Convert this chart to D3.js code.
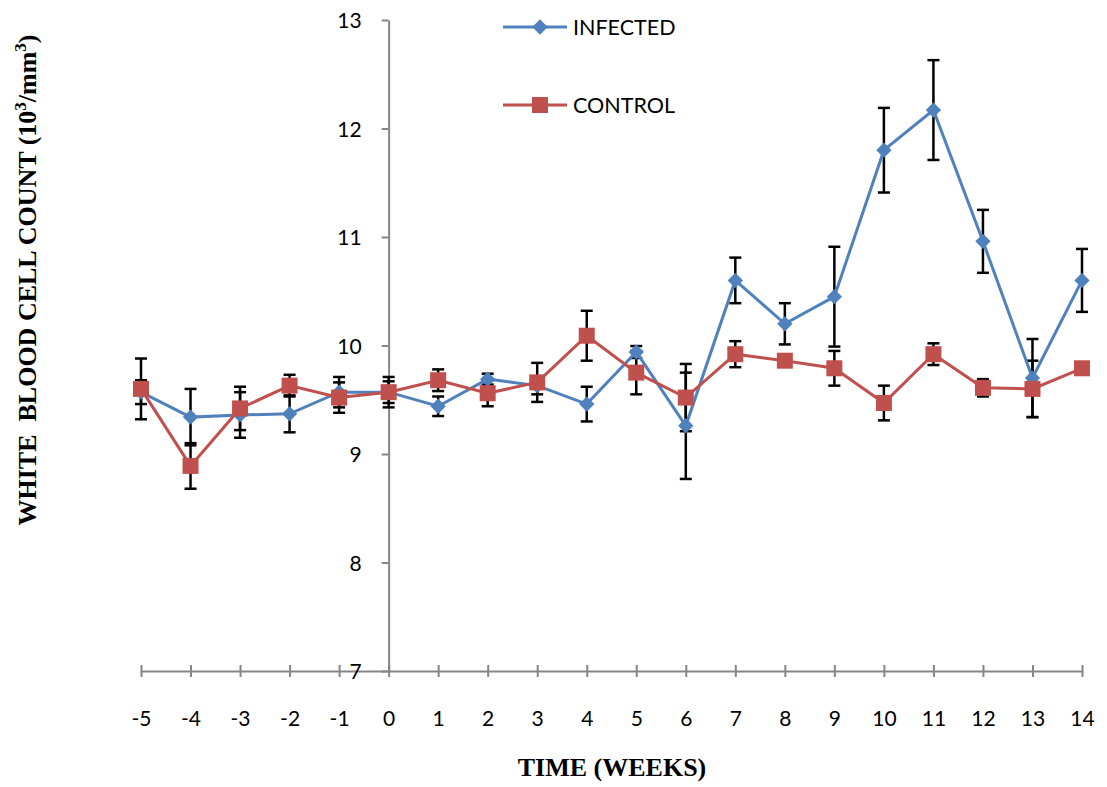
<!DOCTYPE html>
<html>
<head>
<meta charset="utf-8">
<script src="https://cdn.jsdelivr.net/npm/d3@7"></script>
<style>
  body { margin: 0; background: #fff; }
  .tick text { font-family: Lato, "Open Sans", sans-serif; font-size: 21px; fill: #000; }
  .axis-title { font-family: "Liberation Serif", "Times New Roman", serif; font-weight: bold; font-size: 26px; white-space: pre; }
  .legend text { font-family: Lato, "Open Sans", sans-serif; font-size: 21.5px; }
</style>
</head>
<body>
<svg id="root"></svg>
<script>
// weeks relative to infection
const weeks = [-5, -4, -3, -2, -1, 0, 1, 2, 3, 4, 5, 6, 7, 8, 9, 10, 11, 12, 13, 14];

const infected = [9.57, 9.34, 9.36, 9.37, 9.57, 9.57, 9.44, 9.69, 9.63, 9.46,
                  9.94, 9.26, 10.60, 10.20, 10.45, 11.80, 12.17, 10.96, 9.70, 10.60];
const infectedErr = [0.11, 0.26, 0.21, 0.17, 0.14, 0.10, 0.09, 0.05, 0.08, 0.16,
                     0.055, 0.49, 0.21, 0.19, 0.46, 0.39, 0.46, 0.29, 0.36, 0.29];

const control = [9.60, 8.89, 9.42, 9.63, 9.52, 9.57, 9.68, 9.56, 9.66, 10.09,
                 9.75, 9.52, 9.92, 9.86, 9.79, 9.47, 9.92, 9.61, 9.60, 9.79];
const controlErr = [0.28, 0.21, 0.20, 0.10, 0.14, 0.14, 0.10, 0.12, 0.18, 0.23,
                    0.20, 0.31, 0.12, 0.02, 0.16, 0.16, 0.10, 0.08, 0.26, 0.02];

const yTicks = [7, 8, 9, 10, 11, 12, 13];

const width = 1107, height = 787;
const margin = { top: 20, right: 25, bottom: 116, left: 141 };

const svg = d3.select('#root')
    .attr('width', width)
    .attr('height', height);

const x = d3.scaleLinear()
    .domain([-5, 14])
    .range([margin.left, width - margin.right]);

const y = d3.scaleLinear()
    .domain([7, 13])
    .range([height - margin.bottom, margin.top]);

const axisColor = '#868686';

// x axis (ticks cross the line)
const xAxis = svg.append('g')
    .attr('transform', `translate(0, ${y(7)})`)
    .call(d3.axisBottom(x).tickValues(weeks).tickFormat(d => String(d))
        .tickSize(6).tickSizeOuter(0).tickPadding(34));
xAxis.select('.domain').attr('stroke', axisColor).attr('stroke-width', 2);
xAxis.selectAll('.tick line')
    .attr('stroke', axisColor).attr('stroke-width', 2)
    .attr('y1', -6);

// y axis sits at week 0
const yAxis = svg.append('g')
    .attr('transform', `translate(${x(0)}, 0)`)
    .call(d3.axisLeft(y).tickValues(yTicks).tickFormat(d => String(d))
        .tickSize(7).tickSizeOuter(0).tickPadding(20));
yAxis.select('.domain').attr('stroke', axisColor).attr('stroke-width', 2);
yAxis.selectAll('.tick line').attr('stroke', axisColor).attr('stroke-width', 2);
yAxis.selectAll('.tick text').attr('dy', '0.36em');

const series = [
    { name: 'INFECTED', values: infected, err: infectedErr, color: '#4F81BD', symbol: 'diamond' },
    { name: 'CONTROL', values: control, err: controlErr, color: '#C0504D', symbol: 'square' }
];

// error bars under everything
const capW = 6;
series.forEach(s => {
    const eb = svg.append('g').attr('stroke', '#000').attr('stroke-width', 2.5);
    weeks.forEach((w, i) => {
        const hi = y(s.values[i] + s.err[i]);
        const lo = y(s.values[i] - s.err[i]);
        eb.append('line').attr('x1', x(w)).attr('x2', x(w)).attr('y1', hi).attr('y2', lo);
        eb.append('line').attr('x1', x(w) - capW).attr('x2', x(w) + capW).attr('y1', hi).attr('y2', hi);
        eb.append('line').attr('x1', x(w) - capW).attr('x2', x(w) + capW).attr('y1', lo).attr('y2', lo);
    });
});

const line = d3.line()
    .x((d, i) => x(weeks[i]))
    .y(d => y(d));

function marker(g, sym, cx, cy, color) {
    if (sym === 'diamond') {
        g.append('path')
            .attr('d', d3.symbol(d3.symbolDiamond2, 150)())
            .attr('transform', `translate(${cx}, ${cy})`)
            .attr('fill', color);
    } else {
        g.append('rect')
            .attr('x', cx - 8).attr('y', cy - 8)
            .attr('width', 16).attr('height', 16)
            .attr('fill', color);
    }
}

series.forEach(s => {
    const g = svg.append('g');
    g.append('path')
        .datum(s.values)
        .attr('fill', 'none')
        .attr('stroke', s.color)
        .attr('stroke-width', 3)
        .attr('d', line);
    s.values.forEach((v, i) => marker(g, s.symbol, x(weeks[i]), y(v), s.color));
});

// legend
const legend = svg.append('g').attr('class', 'legend');
series.forEach((s, i) => {
    const ly = 27 + i * 78;
    legend.append('line')
        .attr('x1', 503).attr('x2', 567).attr('y1', ly).attr('y2', ly)
        .attr('stroke', s.color).attr('stroke-width', 3);
    marker(legend, s.symbol, 540, ly, s.color);
    legend.append('text')
        .attr('x', 573).attr('y', ly).attr('dy', '0.36em')
        .text(s.name);
});

// axis titles
svg.append('text')
    .attr('class', 'axis-title')
    .attr('x', 612).attr('y', 776)
    .attr('text-anchor', 'middle')
    .text('TIME (WEEKS)');

const yt = svg.append('text')
    .attr('class', 'axis-title')
    .attr('transform', 'translate(36, 280) rotate(-90)')
    .attr('text-anchor', 'middle');
yt.append('tspan').text('WHITE  BLOOD CELL COUNT (10');
yt.append('tspan').attr('font-size', 17).attr('dy', -10).text('3');
yt.append('tspan').attr('dy', 10).text('/mm');
yt.append('tspan').attr('font-size', 17).attr('dy', -10).text('3');
yt.append('tspan').attr('dy', 10).text(')');
</script>
</body>
</html>
